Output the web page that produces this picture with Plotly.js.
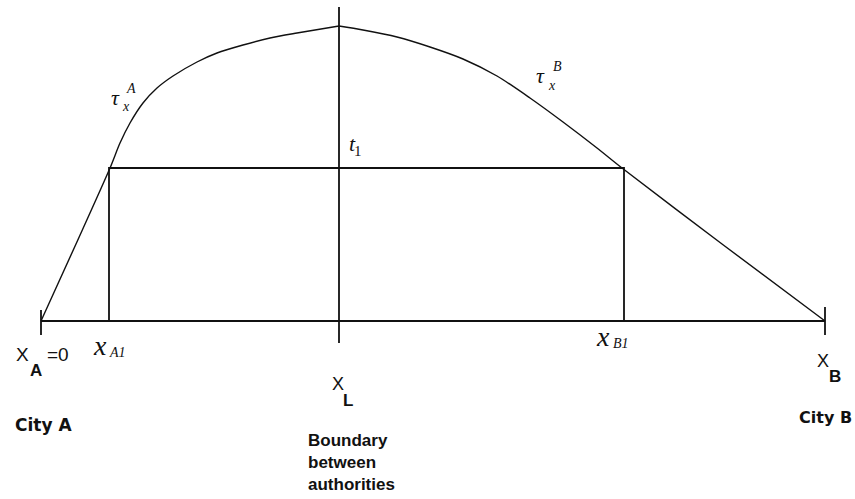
<!DOCTYPE html>
<html>
<head>
<meta charset="utf-8">
<script src="https://cdn.plot.ly/plotly-3.0.1.min.js"></script>
<style>html,body{margin:0;padding:0;background:#fff;}#chart{width:855px;height:499px;}</style>
</head>
<body>
<div id="chart"></div>
<script>
// Positions along the corridor (arbitrary distance units): City A at 0, City B at 784
var xA = 0, xA1 = 68, xL = 298, xB1 = 583, xB = 784;
var t1 = 153;            // level t1
// Curve tau_x^A (from city A up to the boundary)
var tauA_x = [0, 35, 69, 79, 89, 102, 116, 132, 156, 176, 202, 229, 256, 298];
var tauA_y = [0, 77, 153, 178, 198, 218, 233, 245, 259, 268, 276, 283, 288, 295];
// Curve tau_x^B (from the boundary down to city B)
var tauB_x = [298, 322, 356, 389, 422, 456, 489, 522, 556, 581, 681, 784];
var tauB_y = [295, 291, 284, 274, 262, 245, 223, 199, 173, 153, 77, 0];

var black = '#111';
var traces = [
  {x: tauA_x, y: tauA_y, mode: 'lines', line: {color: black, width: 1.4, shape: 'spline', smoothing: 0.8}},
  {x: tauB_x, y: tauB_y, mode: 'lines', line: {color: black, width: 1.4, shape: 'spline', smoothing: 0.8}},
  // baseline
  {x: [xA, xB], y: [0, 0], mode: 'lines', line: {color: black, width: 2}},
  // rectangle at level t1
  {x: [xA1, xA1, xB1, xB1], y: [0, t1, t1, 0], mode: 'lines', line: {color: black, width: 1.8}},
  // boundary line
  {x: [xL, xL], y: [-22, 314], mode: 'lines', line: {color: black, width: 1.8}},
  // end ticks
  {x: [xA, xA], y: [11, -14], mode: 'lines', line: {color: black, width: 1.8}},
  {x: [xB, xB], y: [14, -14], mode: 'lines', line: {color: black, width: 1.8}}
];

var sans = 'Liberation Sans, Arial, sans-serif';
var serif = 'Liberation Serif, Times New Roman, serif';
var verd = 'DejaVu Sans, Verdana, sans-serif';
function ann(x, y, text, size, family, extra) {
  var a = {x: x, y: y, xref: 'x', yref: 'y', text: text, showarrow: false,
           font: {size: size, family: family, color: black}, xanchor: 'center', yanchor: 'middle'};
  for (var k in extra) a[k] = extra[k];
  return a;
}
var annotations = [
  ann(xA - 19, -33, 'X', 19, sans),
  ann(xA - 5, -49, '<b>A</b>', 17, sans),
  ann(xA + 17, -33, '=0', 19, sans),
  ann(xA1 - 9, -24, '<i>x</i>', 28, serif),
  ann(xA1 + 8, -31, '<i>A1</i>', 14, serif),
  ann(xB1 - 21, -15, '<i>x</i>', 28, serif),
  ann(xB1 - 3, -22, '<i>B1</i>', 14, serif),
  ann(xL - 1, -63, 'X', 18, sans),
  ann(xL + 9, -79, '<b>L</b>', 17, sans),
  ann(xB - 2, -40, 'X', 18, sans),
  ann(xB + 10, -55, '<b>B</b>', 17, sans),
  ann(xA + 2, -104, '<b>City A</b>', 17, verd),
  ann(xB, -96, '<b>City B</b>', 16, verd),
  ann(xL - 33, -108, '<b>Boundary<br>between<br>authorities</b>', 17, sans, {xanchor: 'left', yanchor: 'top', align: 'left'}),
  ann(xL + 13, 178, '<i>t</i>', 22, serif),
  ann(xL + 19, 170, '1', 15, serif),
  ann(74, 224, '<i>τ</i>', 22, serif),
  ann(85, 215, '<i>x</i>', 14, serif),
  ann(90, 233, '<i>A</i>', 14, serif),
  ann(499, 246, '<i>τ</i>', 22, serif),
  ann(511, 236, '<i>x</i>', 14, serif),
  ann(516, 255, '<i>B</i>', 14, serif)
];

var layout = {
  width: 855, height: 499,
  margin: {l: 0, r: 0, t: 0, b: 0},
  paper_bgcolor: '#fff', plot_bgcolor: '#fff',
  showlegend: false,
  xaxis: {range: [-41, 814], visible: false, fixedrange: true},
  yaxis: {range: [-178, 321], visible: false, fixedrange: true},
  annotations: annotations
};
Plotly.newPlot('chart', traces, layout, {displayModeBar: false, staticPlot: true});
</script>
</body>
</html>
